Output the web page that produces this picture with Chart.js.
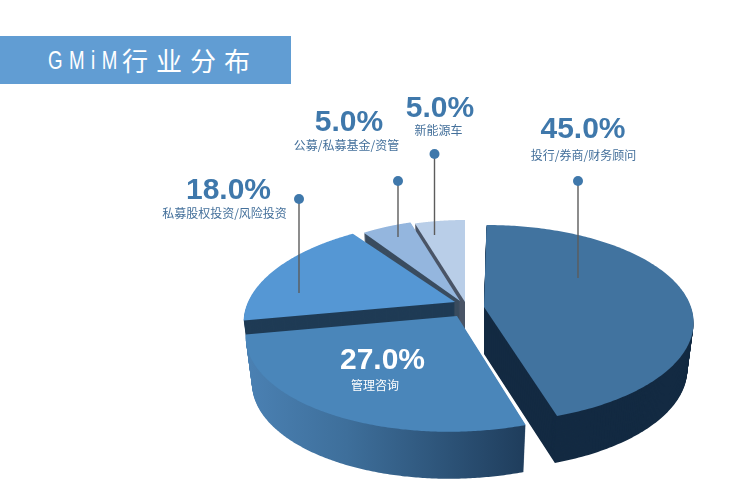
<!DOCTYPE html>
<html>
<head>
<meta charset="utf-8">
<script src="https://cdn.jsdelivr.net/npm/chart.js@4"></script>
<style>
  body { margin: 0; background: #fff; overflow: hidden; }
  #wrap { position: relative; width: 744px; height: 496px; }
  canvas { position: absolute; left: 0; top: 0; }
  #banner { position: absolute; left: 0; top: 36px; width: 291px; height: 48px; background: #619dd3; color: #fff;
            font: 26px/48px "Noto Sans CJK SC"; white-space: nowrap; }
  #banner .en { position: absolute; left: 48px; top: 0; font-family: "Liberation Sans"; letter-spacing: 9px;
                transform: scaleX(0.72); transform-origin: left center; }
  #banner .zh { position: absolute; left: 122px; top: 0; letter-spacing: 8px; }
  .val, .cat { position: absolute; transform: translateX(-50%); white-space: nowrap; color: #3f78ab; }
  .val { font: bold 30px/34px "Liberation Sans", Arial, sans-serif; }
  .cat { font: 12px/16px "Noto Sans CJK SC", sans-serif; color: #44709b; }
  .inside { color: #fff; }
</style>
</head>
<body>
<div id="wrap">
  <canvas id="pie" width="744" height="496"></canvas>
  <div id="banner"><span class="en">GMiM</span><span class="zh">行业分布</span></div>
</div>
<script>
const categories = ['投行/券商/财务顾问', '管理咨询', '私募股权投资/风险投资', '公募/私募基金/资管', '新能源车'];
const shares = [45, 27, 18, 5, 5];
const topColors = ['#41739f', '#4a86ba', '#5597d4', '#94b6de', '#b9cee8'];
const wallColors = ['#132a42', null, '#1f3b55', '#3a4c5f', '#4a5567'];

// where each wedge's tip lands on the page (wedges are pulled apart)
const tips = [[484, 307], [457, 316], [455, 302], [460, 301], [465, 302]];
// small per-wedge corrections so the cut edges land where the reference has them
const skews = [-0.03, -0.07, -0.07, 0, 0];
const squeezes = [1, 1, 1, 0.9, 0.91];
const labelSpots = [[583, 111, 583.5, 147], [382.5, 342, 375, 377], [228.5, 172, 224.5, 205], [349, 104, 346.5, 137], [440, 90, 438.5, 122]];
const pins = [[578, 181, 278], null, [299, 199, 293], [398, 181, 237], [434.5, 154, 235]];

// fake 3d tilt
const RX = 207, RY = 96, TILT = 0.1707, DEPTH = 47;

function warped(ctx, el, i, drop, fill) {
  const tip = tips[i];
  const toPage = (px, py) => {
    const u = (px - el.x) / el.outerRadius, v = (py - el.y) / el.outerRadius;
    const s = 1 / (1 - TILT * v), narrow = 1 - 0.03 * drop / DEPTH;
    return [tip[0] + (RX * u * squeezes[i] + RY * v * skews[i]) * s * narrow, tip[1] + drop + RY * v * s];
  };
  const path = {
    moveTo(x, y) { ctx.lineTo(...toPage(x, y)); },
    lineTo(x, y) { ctx.lineTo(...toPage(x, y)); },
    arc(x, y, r, a0, a1) {
      if (!(r > 0)) { ctx.lineTo(...toPage(x, y)); return; }
      for (let n = 0; n <= 90; n++) {
        const a = a0 + (a1 - a0) * n / 90;
        ctx.lineTo(...toPage(x + r * Math.cos(a), y + r * Math.sin(a)));
      }
    }
  };
  return new Proxy(ctx, {
    get(t, k) {
      if (path[k]) return path[k];
      const v = t[k];
      return typeof v === 'function' ? v.bind(t) : v;
    },
    set(t, k, v) { t[k] = k === 'fillStyle' ? fill : v; return true; }
  });
}

const tilted = {
  id: 'tilted',
  beforeDatasetDraw(chart, args) {
    const ctx = chart.ctx, arcs = args.meta.data;
    // back wedges first, the front ones cover their walls
    [4, 3, 2, 1, 0].forEach(i => {
      let wall = wallColors[i];
      if (!wall) {
        wall = ctx.createLinearGradient(250, 0, 525, 0);
        wall.addColorStop(0, '#4a80b2');
        wall.addColorStop(0.35, '#3e6f9b');
        wall.addColorStop(1, '#1f3d5c');
      }
      for (let d = DEPTH; d > 0; d--) arcs[i].draw(warped(ctx, arcs[i], i, d, wall), chart.chartArea);
      arcs[i].draw(warped(ctx, arcs[i], i, 0, topColors[i]), chart.chartArea);
    });
    return false;
  },
  afterDatasetsDraw(chart) {
    const ctx = chart.ctx;
    pins.forEach(p => {
      if (!p) return;
      ctx.strokeStyle = '#5c5c5c';
      ctx.lineWidth = 1.4;
      ctx.beginPath();
      ctx.moveTo(p[0], p[1]);
      ctx.lineTo(p[0], p[2]);
      ctx.stroke();
      ctx.fillStyle = '#3f78ab';
      ctx.beginPath();
      ctx.arc(p[0], p[1], 5, 0, Math.PI * 2);
      ctx.fill();
    });
  }
};

new Chart(document.getElementById('pie'), {
  type: 'pie',
  data: {
    labels: categories,
    datasets: [{ data: shares, backgroundColor: topColors, borderWidth: 0 }]
  },
  options: {
    responsive: false,
    animation: false,
    plugins: { legend: { display: false }, tooltip: { enabled: false } }
  },
  plugins: [tilted]
});

const wrap = document.getElementById('wrap');
categories.forEach((name, i) => {
  const [xVal, yVal, xCat, yCat] = labelSpots[i];
  const val = document.createElement('div');
  val.className = 'val' + (i === 1 ? ' inside' : '');
  val.textContent = shares[i].toFixed(1) + '%';
  val.style.left = xVal + 'px';
  val.style.top = yVal + 'px';
  const cat = document.createElement('div');
  cat.className = 'cat' + (i === 1 ? ' inside' : '');
  cat.textContent = name;
  cat.style.left = xCat + 'px';
  cat.style.top = yCat + 'px';
  wrap.append(val, cat);
});
</script>
</body>
</html>
